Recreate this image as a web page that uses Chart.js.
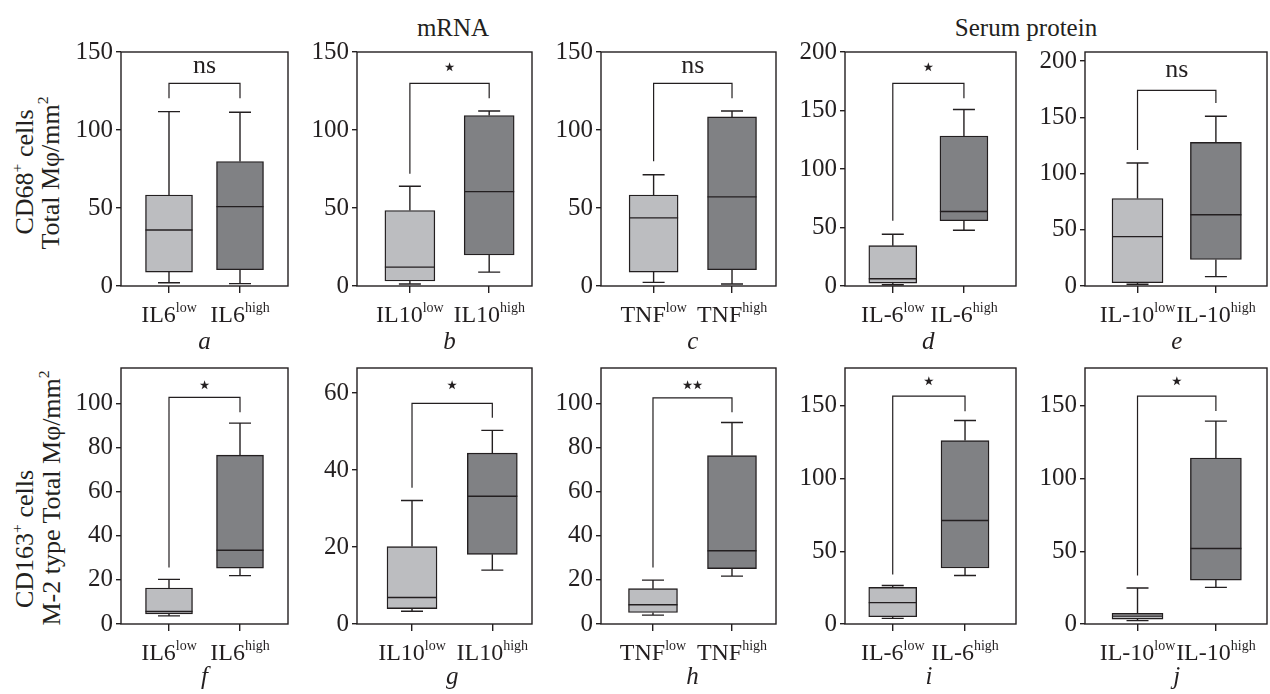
<!DOCTYPE html>
<html>
<head>
<meta charset="utf-8">
<script src="https://cdn.jsdelivr.net/npm/chart.js@4.4.0/dist/chart.umd.min.js"></script>
<style>
  body { margin: 0; width: 1270px; height: 694px; overflow: hidden; position: relative; background: #fff;
         font-family: "Liberation Serif", "DejaVu Serif", serif; color: #231f20; }
  canvas { position: absolute; }
  .t { position: absolute; white-space: nowrap; font-size: 25px; line-height: 1; }
  .rot { font-size: 26px; transform: translate(-50%, -50%) rotate(-90deg); }
  .t sup { font-size: 60%; vertical-align: 0.7em; line-height: 0; }
</style>
</head>
<body>
<div class="t" style="left:453px; top:15px; transform:translateX(-50%);">mRNA</div>
<div class="t" style="left:1026px; top:15px; transform:translateX(-50%);">Serum protein</div>
<div class="t rot" style="left:25px; top:172px;">CD68<sup>+</sup> cells</div>
<div class="t rot" style="left:51px; top:173px;">Total Mφ/mm<sup>2</sup></div>
<div class="t rot" style="left:25px; top:539px;">CD163<sup>+</sup> cells</div>
<div class="t rot" style="left:52px; top:498px;">M-2 type Total Mφ/mm<sup>2</sup></div>

<script>
// --- data ---
const panelTags = ['a', 'b', 'c', 'd', 'e', 'f', 'g', 'h', 'i', 'j'];
const groupNames = ['IL6', 'IL10', 'TNF', 'IL-6', 'IL-10', 'IL6', 'IL10', 'TNF', 'IL-6', 'IL-10'];
const levels = ['low', 'high'];

// [min, q1, median, q3, max]
const lowStats = [
    [2.1, 8.9, 35.9, 58.3, 111.8],
    [1.3, 3.2, 12.1, 48.4, 63.9],
    [2.3, 8.9, 43.7, 58.3, 71.3],
    [1.1, 2.5, 6.2, 34.5, 44.2],
    [1.5, 2.9, 43.9, 77.8, 109.4],
    [3.7, 4.6, 5.7, 16.3, 20.2],
    [3.3, 4.0, 6.9, 20.1, 32.1],
    [4.0, 5.2, 8.7, 16.0, 19.9],
    [3.9, 5.0, 14.7, 25.2, 26.5],
    [2.3, 3.4, 5.4, 7.3, 24.7]
];
const highStats = [
    [1.5, 10.4, 50.9, 79.8, 111.4],
    [8.9, 19.9, 60.5, 109.3, 112.2],
    [1.3, 10.4, 57.1, 108.4, 112.2],
    [47.6, 55.8, 63.7, 128.2, 150.9],
    [8.3, 23.6, 63.4, 127.7, 150.9],
    [21.9, 25.3, 33.4, 76.5, 91.0],
    [14.0, 18.1, 33.2, 44.4, 50.3],
    [21.7, 25.1, 33.2, 76.3, 91.3],
    [33.3, 38.5, 71.2, 126.1, 139.9],
    [25.2, 30.2, 51.9, 114.1, 139.5]
];

const yMax = [150, 150, 150, 200, 208, 116, 66.5, 116, 176, 176];
const yTickVals = [
    [0, 50, 100, 150], [0, 50, 100, 150], [0, 50, 100, 150],
    [0, 50, 100, 150, 200], [0, 50, 100, 150, 200],
    [0, 20, 40, 60, 80, 100], [0, 20, 40, 60], [0, 20, 40, 60, 80, 100],
    [0, 50, 100, 150], [0, 50, 100, 150]
];

// significance brackets (data units)
const sigMarks = ['ns', '*', 'ns', '*', 'ns', '*', '*', '**', '*', '*'];
const sigLevel = [140.3, 140.5, 140.5, 187.4, 191.3, 108.2, 62.1, 108.2, 167.3, 167.3];
const bracketTop = [129.9, 129.9, 129.9, 173.2, 173.9, 102.7, 57.3, 102.5, 156.7, 156.7];
const bracketLeftEnd = [120.3, 71.9, 80, 55.8, 120.9, 25.6, 35.4, 25.6, 34, 33.3];
const bracketRightEnd = [120.3, 120.3, 120.3, 160.5, 162.7, 96, 53.6, 96, 146.3, 146.5];

// --- layout ---
const colLeft = [121, 357, 601, 845, 1085];
const colWidth = [167, 175, 175, 171, 182];
const rowTop = [50, 366];
const rowHeight = [236, 258];
const xRange = [
    [-0.676, 1.676], [-0.667, 1.54], [-0.671, 1.561], [-0.672, 1.732], [-0.67, 1.652],
    [-0.676, 1.676], [-0.685, 1.494], [-0.658, 1.557], [-0.66, 1.705], [-0.67, 1.652]
];
const boxPx = [47, 50, 49, 48, 51];
const capPx = 22;
const yAxisW = 50, padT = 16, padR = 2, xAxisH = 72;

const ink = '#231f20';
const lightFill = '#bcbdc0';
const darkFill = '#808184';
const serif = '"Liberation Serif", "DejaVu Serif", serif';

// whiskers, medians, brackets, frame and labels
const boxExtras = {
    id: 'boxExtras',
    beforeDatasetsDraw(chart, args, opts) {
        const { ctx, scales: { x, y } } = chart;
        const i = opts.panel;
        ctx.save();
        ctx.strokeStyle = ink;
        ctx.lineWidth = 1.4;
        [lowStats[i], highStats[i]].forEach((s, k) => {
            const cx = x.getPixelForValue(k);
            ctx.beginPath();
            ctx.moveTo(cx, y.getPixelForValue(s[0]));
            ctx.lineTo(cx, y.getPixelForValue(s[1]));
            ctx.moveTo(cx, y.getPixelForValue(s[3]));
            ctx.lineTo(cx, y.getPixelForValue(s[4]));
            [s[0], s[4]].forEach(v => {
                const py = y.getPixelForValue(v);
                ctx.moveTo(cx - capPx / 2, py);
                ctx.lineTo(cx + capPx / 2, py);
            });
            ctx.stroke();
        });
        ctx.restore();
    },
    afterDatasetsDraw(chart, args, opts) {
        const { ctx, chartArea: ca, scales: { x, y } } = chart;
        const i = opts.panel;
        const bars = chart.getDatasetMeta(0).data;
        ctx.save();
        ctx.strokeStyle = ink;
        ctx.fillStyle = ink;
        ctx.lineWidth = 1.4;

        // medians
        [lowStats[i], highStats[i]].forEach((s, k) => {
            const cx = x.getPixelForValue(k);
            const half = bars[k].width / 2;
            const py = y.getPixelForValue(s[2]);
            ctx.beginPath();
            ctx.moveTo(cx - half, py);
            ctx.lineTo(cx + half, py);
            ctx.stroke();
        });

        // bracket
        const x0 = x.getPixelForValue(0), x1 = x.getPixelForValue(1);
        const top = y.getPixelForValue(bracketTop[i]);
        ctx.lineWidth = 1.2;
        ctx.beginPath();
        ctx.moveTo(x0, y.getPixelForValue(bracketLeftEnd[i]));
        ctx.lineTo(x0, top);
        ctx.lineTo(x1, top);
        ctx.lineTo(x1, y.getPixelForValue(bracketRightEnd[i]));
        ctx.stroke();

        // significance mark
        const mark = sigMarks[i];
        const cy = y.getPixelForValue(sigLevel[i]);
        const mid = (x0 + x1) / 2;
        ctx.textAlign = 'center';
        ctx.textBaseline = 'alphabetic';
        if (mark.startsWith('*')) {
            ctx.font = '25px "DejaVu Sans"';
            const m = ctx.measureText('⋆');
            const by = cy + (m.actualBoundingBoxAscent - m.actualBoundingBoxDescent) / 2;
            const n = mark.length, gap = 10;
            for (let s = 0; s < n; s++) {
                ctx.fillText('⋆', mid + (s - (n - 1) / 2) * gap, by);
            }
        } else {
            ctx.font = '26px ' + serif;
            const m = ctx.measureText(mark);
            ctx.fillText(mark, mid, cy + (m.actualBoundingBoxAscent - m.actualBoundingBoxDescent) / 2);
        }

        // frame
        ctx.lineWidth = 1.4;
        ctx.strokeRect(ca.left, ca.top, ca.right - ca.left, ca.bottom - ca.top);
        ctx.restore();
    },
    afterDraw(chart, args, opts) {
        const { ctx, chartArea: ca, scales: { x } } = chart;
        const i = opts.panel;
        ctx.save();
        ctx.fillStyle = ink;
        ctx.textAlign = 'left';
        ctx.textBaseline = 'alphabetic';
        levels.forEach((lv, k) => {
            ctx.font = '24px ' + serif;
            const wb = ctx.measureText(groupNames[i]).width;
            ctx.font = '14px ' + serif;
            const ws = ctx.measureText(lv).width;
            const start = x.getPixelForValue(k) - (wb + ws) / 2;
            ctx.font = '24px ' + serif;
            ctx.fillText(groupNames[i], start, ca.bottom + 36);
            ctx.font = '14px ' + serif;
            ctx.fillText(lv, start + wb, ca.bottom + 26);
        });
        // panel letter
        ctx.font = 'italic 25px ' + serif;
        ctx.textAlign = 'center';
        ctx.fillText(panelTags[i], x.getPixelForValue(0.5), ca.bottom + (i < 5 ? 63 : 60));
        ctx.restore();
    }
};

panelTags.forEach((tag, i) => {
    const col = i % 5, row = Math.floor(i / 5);
    const L = colLeft[col], T = rowTop[row], W = colWidth[col], H = rowHeight[row];
    const cv = document.createElement('canvas');
    const cw = W + yAxisW + padR, ch = H + padT + xAxisH;
    cv.width = cw;
    cv.height = ch;
    cv.style.left = (L - yAxisW) + 'px';
    cv.style.top = (T - padT) + 'px';
    cv.style.width = cw + 'px';
    cv.style.height = ch + 'px';
    document.body.appendChild(cv);

    new Chart(cv, {
        type: 'bar',
        data: {
            datasets: [{
                data: [
                    { x: 0, y: [lowStats[i][1], lowStats[i][3]] },
                    { x: 1, y: [highStats[i][1], highStats[i][3]] }
                ],
                backgroundColor: [lightFill, darkFill],
                borderColor: ink,
                borderWidth: 1.4,
                borderSkipped: false,
                barThickness: boxPx[col]
            }]
        },
        options: {
            responsive: false,
            animation: false,
            events: [],
            layout: { padding: { top: padT, right: padR, left: 0, bottom: 0 } },
            plugins: {
                legend: { display: false },
                tooltip: { enabled: false },
                boxExtras: { panel: i }
            },
            scales: {
                x: {
                    type: 'linear',
                    min: xRange[i][0],
                    max: xRange[i][1],
                    offset: false,
                    afterBuildTicks: s => { s.ticks = [{ value: 0 }, { value: 1 }]; },
                    afterFit: s => { s.height = xAxisH; },
                    ticks: { display: false },
                    grid: { offset: false, drawOnChartArea: false, tickLength: 7, tickColor: ink, color: ink, lineWidth: 1.4 },
                    border: { display: false }
                },
                y: {
                    min: 0,
                    max: yMax[i],
                    afterBuildTicks: s => { s.ticks = yTickVals[i].map(v => ({ value: v })); },
                    afterFit: s => { s.width = yAxisW; },
                    ticks: { color: ink, padding: 3, font: { family: serif, size: 25 } },
                    grid: { drawOnChartArea: false, tickLength: 5, tickColor: ink, color: ink, lineWidth: 1.4 },
                    border: { display: false }
                }
            }
        },
        plugins: [boxExtras]
    });
});
</script>
</body>
</html>
